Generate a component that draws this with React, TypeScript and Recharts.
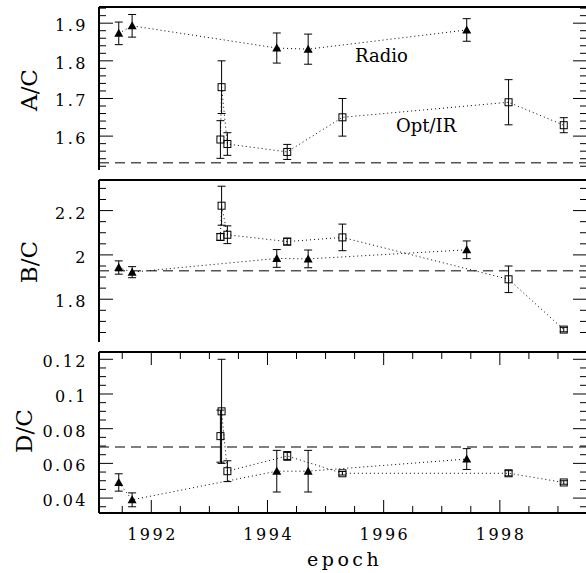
import React from 'react'
import { ScatterChart, Scatter, XAxis, YAxis, ErrorBar, ReferenceLine } from 'recharts'

if (typeof document !== 'undefined') document.body.style.margin = '0'

// epochs shared by all three panels
const radioEpochs = [1991.44, 1991.67, 1994.16, 1994.7, 1997.43]
const optEpochs = [1993.19, 1993.21, 1993.31, 1994.34, 1995.29, 1998.15, 1999.1]

// A/C
const radioAC = [1.873, 1.893, 1.834, 1.831, 1.882]
const radioACErr = [0.03, 0.03, 0.04, 0.04, 0.03]
const optAC = [1.591, 1.73, 1.579, 1.558, 1.65, 1.69, 1.629]
const optACErr = [0.05, 0.07, 0.03, 0.02, 0.05, 0.06, 0.02]
const refAC = 1.529

// B/C
const radioBC = [1.943, 1.922, 1.984, 1.982, 2.023]
const radioBCErr = [0.03, 0.025, 0.04, 0.04, 0.04]
const optBC = [2.081, 2.222, 2.091, 2.06, 2.079, 1.89, 1.663]
const optBCErr = [0.015, 0.088, 0.04, 0.015, 0.06, 0.06, 0.01]
const refBC = 1.928

// D/C
const radioDC = [0.049, 0.039, 0.0555, 0.0555, 0.0625]
const radioDCErr = [0.005, 0.004, 0.012, 0.012, 0.006]
const optDC = [0.0757, 0.09, 0.0555, 0.0643, 0.0543, 0.0543, 0.049]
const optDCErr = [0.015, 0.03, 0.006, 0.0025, 0.001, 0.0015, 0.001]
const refDC = 0.0695

// ticks
const xTicks = [1991.5, 1992, 1992.5, 1993, 1993.5, 1994, 1994.5, 1995, 1995.5, 1996, 1996.5, 1997, 1997.5, 1998, 1998.5, 1999]
const xMajor = [1992, 1994, 1996, 1998]
const acTicks = [1.52, 1.54, 1.56, 1.58, 1.6, 1.62, 1.64, 1.66, 1.68, 1.7, 1.72, 1.74, 1.76, 1.78, 1.8, 1.82, 1.84, 1.86, 1.88, 1.9, 1.92, 1.94]
const acMajor = [1.6, 1.7, 1.8, 1.9]
const bcTicks = [1.65, 1.7, 1.75, 1.8, 1.85, 1.9, 1.95, 2, 2.05, 2.1, 2.15, 2.2, 2.25, 2.3]
const bcMajor = [1.8, 2, 2.2]
const dcTicks = [0.035, 0.04, 0.045, 0.05, 0.055, 0.06, 0.065, 0.07, 0.075, 0.08, 0.085, 0.09, 0.095, 0.1, 0.105, 0.11, 0.115, 0.12]
const dcMajor = [0.04, 0.06, 0.08, 0.1, 0.12]

const X_DOMAIN: [number, number] = [1991.1, 1999.5]
const AC_DOMAIN: [number, number] = [1.51, 1.943]
const BC_DOMAIN: [number, number] = [1.607, 2.338]
const DC_DOMAIN: [number, number] = [0.0314, 0.1242]

const FONT = '"DejaVu Serif", serif'
const CHART_W = 590
const LEFT = 99
const RIGHT_PAD = 3
const PLOT_W = CHART_W - LEFT - RIGHT_PAD

const rows = (xs: number[], ys: number[], es: number[]) => xs.map((x, i) => ({ x, y: ys[i], err: es[i] }))
const acRadio = rows(radioEpochs, radioAC, radioACErr)
const acOpt = rows(optEpochs, optAC, optACErr)
const bcRadio = rows(radioEpochs, radioBC, radioBCErr)
const bcOpt = rows(optEpochs, optBC, optBCErr)
const dcRadio = rows(radioEpochs, radioDC, radioDCErr)
const dcOpt = rows(optEpochs, optDC, optDCErr)

const isMajor = (list: number[], v: number) => list.some(m => Math.abs(m - v) < 1e-9)

// bottom tick also draws the matching tick on the top edge
const makeXTick = (plotH: number, labels: boolean) => (p: any) => {
  const v = p.payload.value
  const len = isMajor(xMajor, v) ? 13 : 7
  const top = p.y - plotH
  return (
    <g>
      <path d={`M${p.x},${p.y}V${p.y - len}M${p.x},${top}V${top + len}`} stroke="#000" strokeWidth={1} fill="none" />
      {labels && isMajor(xMajor, v) && (
        <text x={p.x + 1.25} y={p.y + 27} textAnchor="middle" fontFamily={FONT} fontSize={16} letterSpacing={2.5} fill="#000">
          {v}
        </text>
      )}
    </g>
  )
}

// left tick also draws the matching tick on the right edge
const makeYTick = (majors: number[]) => (p: any) => {
  const v = p.payload.value
  const major = isMajor(majors, v)
  const len = major ? 14 : 7
  const right = p.x + PLOT_W
  return (
    <g>
      <path d={`M${p.x},${p.y}H${p.x + len}M${right},${p.y}H${right - len}`} stroke="#000" strokeWidth={1} fill="none" />
      {major && (
        <text x={p.x - 11} y={p.y + 8} textAnchor="end" fontFamily={FONT} fontSize={16} letterSpacing={2.5} fill="#000">
          {String(v)}
        </text>
      )}
    </g>
  )
}

const Triangle = (p: any) => (
  <polygon points={`${p.cx - 4.5},${p.cy + 3.5} ${p.cx + 4.5},${p.cy + 3.5} ${p.cx},${p.cy - 4.5}`} fill="#000" />
)
const Square = (p: any) => <rect x={p.cx - 3.5} y={p.cy - 3.5} width={7} height={7} fill="none" stroke="#000" strokeWidth={1} />

const dotted = { stroke: '#000', strokeWidth: 1, strokeDasharray: '1 3' }
const frame = { stroke: '#000', strokeWidth: 2 }

const acXTick = makeXTick(163, false)
const bcXTick = makeXTick(162, false)
const dcXTick = makeXTick(161, true)
const acYTick = makeYTick(acMajor)
const bcYTick = makeYTick(bcMajor)
const dcYTick = makeYTick(dcMajor)

function Panel({ top, height, bottom, xAxisHeight, domain, ticks, xTick, yTick, refY, radio, opt }: any) {
  return (
    <div style={{ position: 'absolute', left: 0, top }}>
      <ScatterChart width={CHART_W} height={height} margin={{ top: 7, right: RIGHT_PAD, bottom, left: 0 }}>
        <XAxis xAxisId="b" type="number" dataKey="x" domain={X_DOMAIN} allowDataOverflow ticks={xTicks} interval={0}
          height={xAxisHeight} tickSize={0} tickMargin={0} tickLine={false} axisLine={frame} tick={xTick} />
        <YAxis yAxisId="l" type="number" dataKey="y" domain={domain} allowDataOverflow ticks={ticks} interval={0}
          width={LEFT} tickSize={0} tickMargin={0} tickLine={false} axisLine={frame} tick={yTick} />
        <ReferenceLine xAxisId="b" yAxisId="l" y={domain[1]} stroke="#000" strokeWidth={2} />
        <ReferenceLine xAxisId="b" yAxisId="l" y={refY} stroke="#555" strokeWidth={1.5} strokeDasharray="10 6" />
        <Scatter xAxisId="b" yAxisId="l" data={radio} shape={Triangle} line={dotted} lineType="joint" isAnimationActive={false}>
          <ErrorBar dataKey="err" direction="y" width={4} stroke="#000" strokeWidth={1} isAnimationActive={false} />
        </Scatter>
        <Scatter xAxisId="b" yAxisId="l" data={opt} shape={Square} line={dotted} lineType="joint" isAnimationActive={false}>
          <ErrorBar dataKey="err" direction="y" width={4} stroke="#000" strokeWidth={1} isAnimationActive={false} />
        </Scatter>
      </ScatterChart>
    </div>
  )
}

export default function App() {
  return (
    <div style={{ position: 'relative', width: 586, height: 573, overflow: 'hidden' }}>
      <Panel top={0} height={173} bottom={3} xAxisHeight={0} domain={AC_DOMAIN} ticks={acTicks} xTick={acXTick} yTick={acYTick}
        refY={refAC} radio={acRadio} opt={acOpt} />
      <Panel top={173} height={172} bottom={3} xAxisHeight={0} domain={BC_DOMAIN} ticks={bcTicks} xTick={bcXTick} yTick={bcYTick}
        refY={refBC} radio={bcRadio} opt={bcOpt} />
      <Panel top={345} height={228} bottom={0} xAxisHeight={60} domain={DC_DOMAIN} ticks={dcTicks} xTick={dcXTick} yTick={dcYTick}
        refY={refDC} radio={dcRadio} opt={dcOpt} />
      <svg width={586} height={573} style={{ position: 'absolute', left: 0, top: 0, pointerEvents: 'none' }}>
        <g fontFamily={FONT} fill="#000">
          <text x={355} y={62} fontSize={18}>Radio</text>
          <text x={396} y={132} fontSize={18}>Opt/IR</text>
          <text x={37} y={90} fontSize={23} textAnchor="middle" transform="rotate(-90 37 90)">A/C</text>
          <text x={37} y={262} fontSize={23} textAnchor="middle" transform="rotate(-90 37 262)">B/C</text>
          <text x={31.5} y={431} fontSize={23} textAnchor="middle" transform="rotate(-90 31.5 431)">D/C</text>
          <text x={307} y={566} fontSize={19} letterSpacing={3.5}>epoch</text>
        </g>
      </svg>
    </div>
  )
}
